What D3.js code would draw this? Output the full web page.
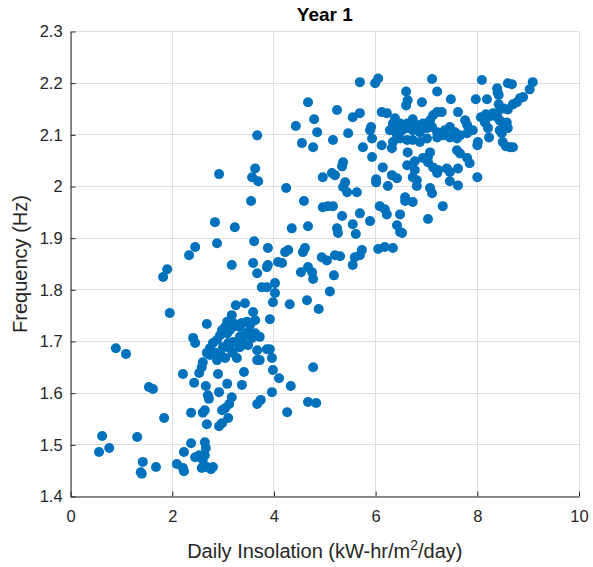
<!DOCTYPE html>
<html><head><meta charset="utf-8">
<script src="https://cdn.jsdelivr.net/npm/d3@7"></script>
<style>body{margin:0;background:#fff}svg{display:block}</style>
</head><body>
<svg id="chart" width="593" height="567"></svg>
<script>
const titleText = "Year 1";
const xTicks = [0, 2, 4, 6, 8, 10];
const yTicks = [1.4, 1.5, 1.6, 1.7, 1.8, 1.9, 2.0, 2.1, 2.2, 2.3];
const xDomain = [0, 10];
const yDomain = [1.4, 2.3];

const insolation = [
0.89,1.09,1.54,1.62,1.84,0.62,0.56,0.76,1.31,1.42,1.38,1.40,1.68,1.95,1.82,1.90,2.33,2.45,2.88,2.92,2.84,3.23,3.17,
2.09,2.21,2.23,2.23,2.37,2.45,2.53,2.64,2.66,2.64,2.60,2.58,2.68,2.80,2.76,
2.21,2.43,2.53,2.58,2.60,2.66,2.70,2.72,2.90,2.92,3.08,3.17,3.12,3.04,2.98,3.10,2.98,2.92,3.37,3.41,2.37,2.60,2.64,2.68,3.74,3.67,3.96,4.10,3.98,4.33,4.26,4.67,4.83,4.77,
2.41,2.45,2.68,3.25,3.43,3.17,3.19,3.59,3.63,3.92,3.08,3.04,2.98,2.94,2.88,2.80,2.74,2.68,3.08,3.13,3.19,3.27,3.33,3.37,3.47,3.53,3.49,3.43,3.33,3.29,3.19,3.10,3.00,2.94,2.84,2.74,3.37,3.57,3.63,3.72,3.49,3.33,3.13,3.19,2.88,3.04,3.27,3.67,3.86,3.92,3.67,3.72,3.96,
3.76,3.86,4.02,3.98,4.31,4.65,4.88,5.10,4.02,3.59,3.67,3.86,3.88,4.08,4.16,4.22,4.28,4.57,4.61,4.94,5.04,5.20,5.30,4.53,4.67,4.75,4.77,5.18,5.59,5.73,5.69,5.55,3.61,3.88,4.35,4.67,5.24,5.26,5.55,5.61,6.42,6.48,6.52,6.05,6.18,6.34,
3.67,3.63,3.57,3.69,4.24,4.59,3.55,5.36,5.34,5.14,4.96,5.20,4.96,5.06,5.16,5.34,4.43,4.55,4.79,4.85,4.77,4.67,5.24,5.16,5.46,5.55,5.69,5.69,5.99,6.05,5.40,5.36,5.44,5.63,6.01,6.24,6.14,6.32,6.42,6.62,6.77,6.93,6.77,6.58,6.58,6.73,5.69,5.89,6.08,6.18,6.22,6.48,7.03,5.93,5.91,5.89,5.93,5.75,6.12,6.32,6.34,6.12,6.22,6.38,6.34,6.73,6.60,6.63,6.60,6.91,7.11,7.21,7.13,7.21,6.63,7.07,7.03,7.13,7.21,6.73,6.81,6.81,7.07,7.11,
6.42,6.52,6.62,6.73,6.87,7.01,7.11,7.21,6.48,6.62,6.73,6.87,6.42,7.01,7.21,6.62,6.48,6.28,6.81,6.93,7.36,7.46,7.56,7.66,7.32,7.46,7.60,7.80,
7.48,7.07,7.30,7.62,7.76,7.80,7.91,7.60,7.66,7.80,7.85,7.03,7.23,7.40,7.46,7.62,6.01,8.09,7.97,8.19,8.39,8.40,8.42,8.60,8.68,9.09,9.03,8.84,8.90,8.78,8.70,8.42,8.52,8.60,8.39,8.31,8.25,8.17,8.07,8.39,8.44,8.58,8.15,8.44,8.52,8.60,8.48,8.21,8.23,8.01,8.00,8.50,8.56,8.64,8.70,8.00,7.46,7.62,7.32
];

const frequency = [
1.687,1.676,1.612,1.608,1.552,1.517,1.486,1.494,1.515,1.467,1.447,1.444,1.457,1.755,1.825,1.840,1.867,1.883,1.890,2.024,1.931,1.921,1.848,
1.463,1.455,1.449,1.486,1.503,1.476,1.480,1.505,1.494,1.480,1.471,1.455,1.457,1.457,1.453,
1.637,1.620,1.639,1.650,1.660,1.614,1.596,1.589,1.637,1.602,1.618,1.592,1.579,1.571,1.567,1.552,1.542,1.536,1.616,1.641,1.562,1.562,1.567,1.540,1.587,1.579,1.602,1.629,1.645,1.614,1.563,1.583,1.581,1.650,
1.707,1.697,1.734,1.770,1.774,1.751,1.736,1.757,1.741,1.743,1.738,1.728,1.722,1.712,1.703,1.697,1.687,1.678,1.716,1.722,1.728,1.732,1.728,1.736,1.738,1.732,1.718,1.712,1.709,1.699,1.699,1.697,1.689,1.679,1.678,1.674,1.703,1.707,1.716,1.709,1.693,1.689,1.687,1.678,1.664,1.668,1.668,1.683,1.685,1.685,1.664,1.664,1.668,
1.805,1.805,1.794,1.776,1.772,1.780,1.763,1.797,1.813,1.852,1.832,1.844,1.848,1.854,1.852,1.873,1.877,1.873,1.881,1.863,1.857,1.867,1.865,1.834,1.844,1.834,1.821,1.828,1.863,1.877,1.867,1.848,1.894,1.881,1.919,1.923,1.919,1.910,1.927,1.908,1.925,1.912,1.910,1.879,1.883,1.881,
2.099,2.035,2.018,2.010,1.997,1.972,1.972,2.047,2.039,2.026,2.018,2.022,1.960,1.962,1.962,1.943,2.117,2.084,2.130,2.105,2.076,2.163,2.148,2.090,2.103,2.134,2.142,2.202,2.200,2.209,2.008,1.999,1.989,1.989,2.008,2.001,2.037,2.022,2.016,2.041,2.049,2.055,2.032,1.979,1.972,1.970,1.948,1.933,1.962,1.956,1.946,1.946,1.937,2.057,2.115,2.109,2.093,2.076,2.080,2.074,2.086,2.144,2.142,2.132,2.122,2.130,2.184,2.167,2.157,2.163,2.208,2.184,2.138,2.144,2.066,2.066,2.057,2.037,2.026,2.018,2.012,2.001,1.997,1.987,
2.115,2.109,2.113,2.109,2.105,2.113,2.115,2.105,2.093,2.090,2.090,2.086,2.099,2.093,2.095,2.122,2.122,2.109,2.119,2.122,2.109,2.115,2.105,2.099,2.099,2.095,2.093,2.103,
2.169,2.128,2.144,2.144,2.128,2.119,2.109,2.070,2.064,2.055,2.045,2.047,2.032,2.035,2.028,2.035,2.014,2.206,2.169,2.169,2.190,2.182,2.177,2.200,2.198,2.202,2.188,2.171,2.173,2.163,2.159,2.159,2.151,2.149,2.142,2.142,2.136,2.140,2.134,2.134,2.128,2.124,2.124,2.109,2.115,2.113,2.103,2.113,2.095,2.086,2.080,2.086,2.078,2.076,2.076,2.018,2.010,2.002,1.962
];

const W = 593, H = 567;
const margin = {left: 70.6, right: 14, top: 31.5, bottom: 70.5};
const axisColor = "#262626";
const gridColor = "#dfdfdf";
const dotColor = "#0072BD";
const font = "'Liberation Sans', Arial, Helvetica, sans-serif";

const svg = d3.select("#chart");
const x = d3.scaleLinear().domain(xDomain).range([margin.left, W - margin.right]);
const y = d3.scaleLinear().domain(yDomain).range([H - margin.bottom, margin.top]);

// grid
const g = svg.append("g");
g.selectAll("line.gx").data(xTicks).join("line")
  .attr("x1", d => x(d)).attr("x2", d => x(d))
  .attr("y1", y(yDomain[0])).attr("y2", y(yDomain[1]))
  .attr("stroke", gridColor).attr("stroke-width", 1).attr("shape-rendering", "crispEdges");
g.selectAll("line.gy").data(yTicks).join("line")
  .attr("y1", d => y(d)).attr("y2", d => y(d))
  .attr("x1", x(xDomain[0])).attr("x2", x(xDomain[1]))
  .attr("stroke", gridColor).attr("stroke-width", 1).attr("shape-rendering", "crispEdges");

// points
const pts = insolation.map((v, i) => ({x: v, y: frequency[i]}));
svg.append("g").selectAll("circle").data(pts).join("circle")
  .attr("cx", d => x(d.x)).attr("cy", d => y(d.y)).attr("r", 5)
  .attr("fill", dotColor);

// axes
const xAxis = d3.axisBottom(x).tickValues(xTicks).tickFormat(d3.format("d"))
  .tickSizeInner(-5).tickSizeOuter(0).tickPadding(14);
const yAxis = d3.axisLeft(y).tickValues(yTicks).tickFormat(d => String(+d.toFixed(1)))
  .tickSizeInner(-5).tickSizeOuter(0).tickPadding(8);

const gx = svg.append("g").attr("transform", `translate(0,${y(yDomain[0])})`).call(xAxis);
const gy = svg.append("g").attr("transform", `translate(${x(xDomain[0])},0)`).call(yAxis);
[gx, gy].forEach(a => {
  a.select(".domain").attr("stroke", axisColor).attr("stroke-width", 1);
  a.selectAll(".tick line").attr("stroke", axisColor);
  a.selectAll(".tick text").attr("fill", axisColor).style("font-family", font).style("font-size", "16.5px");
});

// title
svg.append("text").attr("x", (x(0) + x(10)) / 2).attr("y", 21)
  .attr("text-anchor", "middle").style("font-family", font).style("font-size", "19px")
  .style("font-weight", "bold").attr("fill", "#000").text(titleText);

// x label
const xl = svg.append("text").attr("x", (x(0) + x(10)) / 2).attr("y", 558)
  .attr("text-anchor", "middle").style("font-family", font).style("font-size", "20px")
  .attr("fill", axisColor);
xl.append("tspan").text("Daily Insolation (kW-hr/m");
xl.append("tspan").attr("baseline-shift", "super").style("font-size", "14px").text("2");
xl.append("tspan").text("/day)");

// y label
svg.append("text").attr("transform", `translate(27,${(y(1.4) + y(2.3)) / 2}) rotate(-90)`)
  .attr("text-anchor", "middle").style("font-family", font).style("font-size", "20px")
  .attr("fill", axisColor).text("Frequency (Hz)");
</script>
</body></html>
